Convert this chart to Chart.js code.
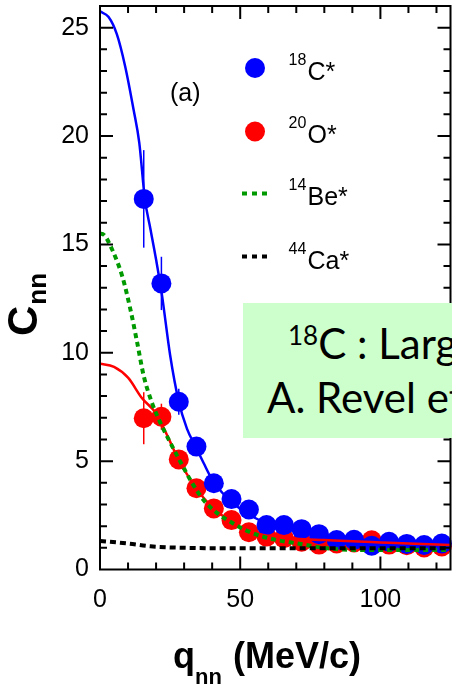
<!DOCTYPE html>
<html>
<head>
<meta charset="utf-8">
<script src="https://cdn.jsdelivr.net/npm/chart.js@4/dist/chart.umd.min.js"></script>
<style>
  html, body { margin: 0; padding: 0; background: #fff; overflow: hidden; }
  #wrap { position: relative; width: 452px; height: 692px; overflow: hidden; }
  #note {
    position: absolute; left: 243px; top: 303px; width: 260px; height: 135px;
    background: #ccffcc; font-family: Lato, "Noto Sans", sans-serif; font-size: 42px;
    line-height: 42px; color: #000; white-space: nowrap;
  }
  #note div { position: absolute; }
  #note sup { font-size: 26px; vertical-align: baseline; position: relative; top: -14px; }
</style>
</head>
<body>
<div id="wrap">
  <canvas id="cnn" width="452" height="692"></canvas>
  <div id="note">
    <div style="left:45px; top:19px;"><sup>18</sup>C : Large</div>
    <div style="left:24px; top:73px;">A. Revel et al.</div>
  </div>
</div>
<script>
// measured bins (MeV/c)
var qBins = [15.6, 21.9, 28.1, 34.4, 40.6, 46.9, 53.1, 59.4, 65.6, 71.9, 78.1, 84.4, 90.6, 96.9, 103.1, 109.4, 115.6, 121.9];

// 18C* correlation function and errors
var c18 = [17.1, 13.2, 7.74, 5.67, 3.98, 3.25, 2.77, 2.05, 2.05, 1.86, 1.63, 1.36, 1.37, 1.10, 1.28, 1.18, 1.13, 1.20];
var c18Err = [2.25, 1.23, 0.6, 0.4, 0.3, 0.3, 0.25, 0.2, 0.2, 0.2, 0.15, 0.15, 0.15, 0.15, 0.15, 0.15, 0.15, 0.15];

// 20O* correlation function and errors
var o20 = [6.98, 7.05, 5.08, 3.75, 2.82, 2.28, 1.72, 1.52, 1.44, 1.28, 1.15, 1.20, 1.25, 1.35, 1.15, 1.12, 1.02, 1.06];
var o20Err = [1.2, 0.6, 0.4, 0.3, 0.25, 0.2, 0.2, 0.15, 0.15, 0.15, 0.15, 0.15, 0.15, 0.15, 0.15, 0.15, 0.15, 0.15];

// model curves
var fitQ18 = [0, 3, 6, 9, 12, 14, 16, 18, 20, 22, 25, 28, 31, 34, 37, 40, 45, 50, 55, 60, 70, 80, 90, 100, 110, 125];
var fitC18 = [25.75, 25.5, 24.7, 23.2, 21.2, 19.7, 17.1, 15.7, 14.3, 12.75, 9.9, 7.8, 6.5, 5.7, 4.9, 4.15, 3.35, 2.8, 2.4, 2.1, 1.75, 1.5, 1.38, 1.3, 1.25, 1.2];

var fitQ20 = [0, 5, 10, 15, 20, 25, 28, 31, 34, 37, 40, 45, 50, 55, 60, 70, 80, 90, 100, 110, 125];
var fitO20 = [9.5, 9.35, 8.85, 7.9, 7.2, 5.9, 5.05, 4.4, 3.8, 3.3, 2.9, 2.35, 1.95, 1.7, 1.55, 1.42, 1.36, 1.3, 1.25, 1.2, 1.13];

var beQ = [0, 1.4, 4.4, 8, 10.9, 13.3, 15.65, 18.6, 21.6, 25.2, 29.3, 32.9, 37, 41.8, 46.5, 51.8, 57.2, 63, 70, 81, 93, 125];
var beC = [15.5, 15.44, 14.74, 13.5, 11.97, 10.44, 8.9, 7.67, 6.75, 5.82, 4.82, 3.98, 3.2, 2.6, 2.2, 1.82, 1.55, 1.36, 1.21, 0.98, 0.9, 0.9];

var caQ = [0, 10, 18, 25, 35, 45, 60, 80, 100, 125];
var caC = [1.32, 1.2, 1.07, 1.02, 0.99, 0.98, 0.98, 0.98, 0.98, 0.98];

var xTicks = [0, 50, 100];
var yTicks = [0, 5, 10, 15, 20, 25];

var BLUE = "#0000ff", RED = "#ff0000", GREEN = "#009a00", BLACK = "#000000";
var TICK_FONT = "Liberation Sans";

function pts(xs, ys) {
  return xs.map(function(x, i) { return { x: x, y: ys[i] }; });
}

function curve(label, xs, ys, color, dash) {
  return {
    label: label,
    data: pts(xs, ys),
    showLine: true,
    borderColor: color,
    borderWidth: dash ? 4 : 2.5,
    borderDash: dash || [],
    pointRadius: 0,
    cubicInterpolationMode: "monotone",
    fill: false
  };
}

function markers(label, ys, color, errs) {
  return {
    label: label,
    data: pts(qBins, ys),
    showLine: false,
    clip: false,
    pointRadius: 10,
    pointBackgroundColor: color,
    pointBorderWidth: 0,
    errs: errs,
    errColor: color
  };
}

// fixed axis box: no extra room for the end labels
function fitBox(size) {
  return function(s) {
    if (s.isHorizontal()) s.height = size; else s.width = size;
    s.paddingTop = s.paddingBottom = s.paddingLeft = s.paddingRight = 0;
  };
}

// frame, inner ticks, titles, legend
var decor = {
  id: "decor",
  afterDatasetDraw: function(chart, args) {
    var ds = chart.data.datasets[args.index];
    if (!ds.errs) return;
    var ctx = chart.ctx, sx = chart.scales.x, sy = chart.scales.y;
    ctx.save();
    ctx.strokeStyle = ds.errColor;
    ctx.lineWidth = 1.5;
    ds.data.forEach(function(p, i) {
      var px = sx.getPixelForValue(p.x);
      ctx.beginPath();
      ctx.moveTo(px, sy.getPixelForValue(p.y - ds.errs[i]));
      ctx.lineTo(px, sy.getPixelForValue(p.y + ds.errs[i]));
      ctx.stroke();
    });
    ctx.restore();
  },
  afterDraw: function(chart) {
    var ctx = chart.ctx, a = chart.chartArea, sx = chart.scales.x, sy = chart.scales.y;
    ctx.save();
    ctx.strokeStyle = "#000";
    ctx.lineWidth = 2;
    ctx.strokeRect(a.left, a.top, a.right - a.left, a.bottom - a.top);

    ctx.beginPath();
    for (var v = 10; v < 125; v += 10) {
      var px = sx.getPixelForValue(v), len = v % 50 === 0 ? 13 : 7;
      ctx.moveTo(px, a.bottom); ctx.lineTo(px, a.bottom - len);
      ctx.moveTo(px, a.top); ctx.lineTo(px, a.top + len);
    }
    for (var w = 1; w < 26; w++) {
      var py = sy.getPixelForValue(w), l = w % 5 === 0 ? 13 : 7;
      ctx.moveTo(a.left, py); ctx.lineTo(a.left + l, py);
      ctx.moveTo(a.right, py); ctx.lineTo(a.right - l, py);
    }
    ctx.stroke();

    ctx.fillStyle = "#000";
    ctx.textBaseline = "alphabetic";
    ctx.textAlign = "left";

    // x title
    ctx.font = "bold 36px Liberation Sans";
    ctx.fillText("q", 173, 668);
    ctx.fillText("(MeV/c)", 233, 668);
    ctx.font = "bold 22px Liberation Sans";
    ctx.fillText("nn", 195, 684);

    // y title
    ctx.save();
    ctx.translate(37, 336);
    ctx.rotate(-Math.PI / 2);
    ctx.font = "bold 42px Liberation Sans";
    ctx.fillText("C", 0, 0);
    var cw = ctx.measureText("C").width;
    ctx.font = "bold 26px Liberation Sans";
    ctx.fillText("nn", cw + 1, 9);
    ctx.restore();

    ctx.font = "25px " + TICK_FONT;
    ctx.fillText("(a)", 170, 101);

    // legend
    var rows = [
      { y: 68, sup: "18", name: "C*", base: 80, dot: BLUE },
      { y: 131.5, sup: "20", name: "O*", base: 143, dot: RED },
      { y: 193.5, sup: "14", name: "Be*", base: 205, dash: GREEN },
      { y: 256.5, sup: "44", name: "Ca*", base: 269, dash: BLACK }
    ];
    rows.forEach(function(r) {
      if (r.dot) {
        ctx.fillStyle = r.dot;
        ctx.beginPath();
        ctx.arc(255, r.y, 10, 0, Math.PI * 2);
        ctx.fill();
      } else {
        ctx.strokeStyle = r.dash;
        ctx.lineWidth = 4;
        ctx.setLineDash([5, 5]);
        ctx.beginPath();
        ctx.moveTo(242, r.y); ctx.lineTo(269, r.y);
        ctx.stroke();
        ctx.setLineDash([]);
      }
      ctx.fillStyle = "#000";
      ctx.font = "16px " + TICK_FONT;
      ctx.fillText(r.sup, 288.5, r.base - 15);
      ctx.font = "25px " + TICK_FONT;
      ctx.fillText(r.name, 307.5, r.base);
    });
    ctx.restore();
  }
};

new Chart(document.getElementById("cnn"), {
  type: "scatter",
  data: {
    datasets: [
      curve("44Ca*", caQ, caC, BLACK, [6, 4]),
      curve("14Be*", beQ, beC, GREEN, [5, 4]),
      curve("20O* fit", fitQ20, fitO20, RED),
      curve("18C* fit", fitQ18, fitC18, BLUE),
      markers("18C*", c18, BLUE, c18Err),
      markers("20O*", o20, RED, o20Err)
    ]
  },
  options: {
    responsive: false,
    animation: false,
    devicePixelRatio: 1,
    layout: { autoPadding: false, padding: { top: 6, right: 1.5, left: 0, bottom: 0 } },
    plugins: { legend: { display: false }, tooltip: { enabled: false } },
    scales: {
      x: {
        type: "linear", min: 0, max: 125,
        grid: { display: false, drawTicks: false },
        border: { display: false },
        afterBuildTicks: function(s) { s.ticks = xTicks.map(function(v) { return { value: v }; }); },
        ticks: { font: { family: TICK_FONT, size: 25 }, color: "#000", padding: 16, maxRotation: 0, autoSkip: false },
        afterFit: fitBox(122.5)
      },
      y: {
        type: "linear", min: 0, max: 26,
        grid: { display: false, drawTicks: false },
        border: { display: false },
        afterBuildTicks: function(s) { s.ticks = yTicks.map(function(v) { return { value: v }; }); },
        ticks: { font: { family: TICK_FONT, size: 25 }, color: "#000", padding: 11, autoSkip: false },
        afterFit: fitBox(100)
      }
    }
  },
  plugins: [decor]
});
</script>
</body>
</html>
